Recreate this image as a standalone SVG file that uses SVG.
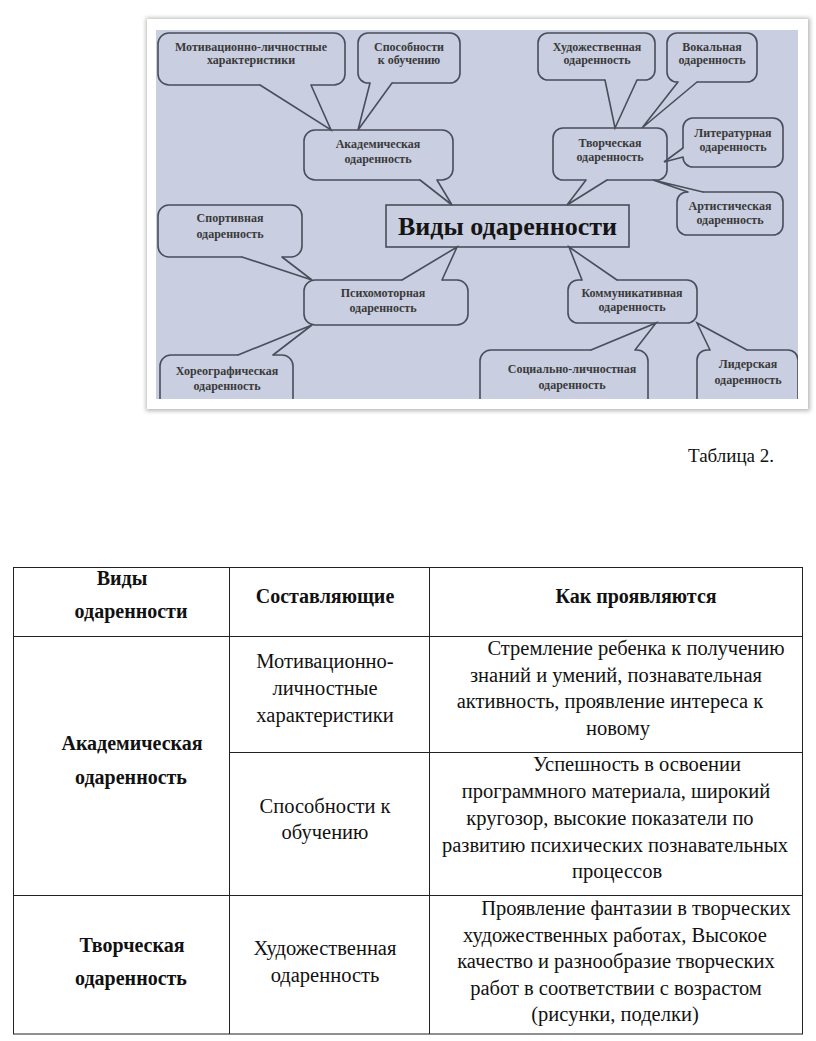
<svg xmlns="http://www.w3.org/2000/svg" width="816" height="1041" viewBox="0 0 816 1041">
<defs>
<style>
.bx{fill:#c9cee0;stroke:#4a4e5a;stroke-width:1.6}
.cv{fill:#c9cee0;stroke:none}
.tl{fill:none;stroke:#4a4e5a;stroke-width:1.6;stroke-linecap:round;stroke-linejoin:miter}
.ct{font-family:"Liberation Serif",serif;font-size:12px;font-weight:bold;fill:#3a3a3a;text-anchor:middle}
.ttl{font-family:"Liberation Serif",serif;font-size:26px;font-weight:bold;fill:#151515;text-anchor:middle}
.tb{font-family:"Liberation Serif",serif;font-size:20.5px;fill:#111;text-anchor:middle}
.tbb{font-family:"Liberation Serif",serif;font-size:20px;font-weight:bold;fill:#111;text-anchor:middle}
.grid{stroke:#222;stroke-width:1;fill:none}
</style>
<clipPath id="clipA"><rect x="156" y="30" width="642" height="369"/></clipPath>
<filter id="sh" x="-5%" y="-5%" width="110%" height="110%"><feGaussianBlur stdDeviation="2"/></filter>
</defs>
<rect width="816" height="1041" fill="#ffffff"/>
<!-- picture frame -->
<rect x="146" y="18" width="664" height="393" fill="#b8b8b8" filter="url(#sh)"/>
<rect x="147" y="19" width="661" height="390" fill="#ffffff"/>
<rect x="156" y="30" width="642" height="369" fill="#c9cee0"/>
<g clip-path="url(#clipA)">
<g id="motiv"><rect class="bx" x="158" y="33" width="187" height="52" rx="11"/><text class="ct" x="251" y="51">Мотивационно-личностные</text><text class="ct" x="251" y="64">характеристики</text></g>
<g id="sposob"><rect class="bx" x="358" y="33" width="102" height="50" rx="10"/><text class="ct" x="409" y="51">Способности</text><text class="ct" x="409" y="64">к обучению</text></g>
<g id="akad"><rect class="bx" x="304" y="130" width="149" height="50" rx="11"/><text class="ct" x="378" y="148">Академическая</text><text class="ct" x="378" y="163">одаренность</text></g>
<g id="hud"><rect class="bx" x="538" y="33" width="117" height="47" rx="10"/><text class="ct" x="597" y="51">Художественная</text><text class="ct" x="597" y="64">одаренность</text></g>
<g id="vokal"><rect class="bx" x="667" y="33" width="90" height="49" rx="10"/><text class="ct" x="712" y="51">Вокальная</text><text class="ct" x="712" y="64">одаренность</text></g>
<g id="tvor"><rect class="bx" x="553" y="128" width="114" height="52" rx="10"/><text class="ct" x="610" y="147">Творческая</text><text class="ct" x="610" y="161">одаренность</text></g>
<g id="liter"><rect class="bx" x="683" y="118" width="100" height="49" rx="10"/><text class="ct" x="733" y="137">Литературная</text><text class="ct" x="733" y="151">одаренность</text></g>
<g id="artist"><rect class="bx" x="677" y="192" width="106" height="43" rx="10"/><text class="ct" x="730" y="210">Артистическая</text><text class="ct" x="730" y="224">одаренность</text></g>
<g id="sport"><rect class="bx" x="158" y="205" width="144" height="52" rx="11"/><text class="ct" x="230" y="222">Спортивная</text><text class="ct" x="230" y="238">одаренность</text></g>
<g id="psih"><rect class="bx" x="304" y="280" width="164" height="45" rx="11"/><text class="ct" x="383" y="297">Психомоторная</text><text class="ct" x="383" y="312">одаренность</text></g>
<g id="horeo"><rect class="bx" x="160" y="355" width="133" height="60" rx="11"/><text class="ct" x="227" y="375">Хореографическая</text><text class="ct" x="227" y="390">одаренность</text></g>
<g id="komm"><rect class="bx" x="568" y="280" width="129" height="43" rx="10"/><text class="ct" x="632" y="297">Коммуникативная</text><text class="ct" x="632" y="311">одаренность</text></g>
<g id="social"><rect class="bx" x="480" y="350" width="168" height="60" rx="11"/><text class="ct" x="572" y="373">Социально-личностная</text><text class="ct" x="572" y="389">одаренность</text></g>
<g id="lider"><rect class="bx" x="697" y="350" width="101" height="60" rx="10"/><text class="ct" x="748" y="368">Лидерская</text><text class="ct" x="748" y="384">одаренность</text></g>
<g id="center"><rect class="bx" x="386" y="205" width="243" height="42"/><text class="ttl" x="507.5" y="235" textLength="219" lengthAdjust="spacingAndGlyphs">Виды одаренности</text></g>
<g id="connectors">
<polygon class="cv" points="260,82 260,85 331,130 311,85 311,82"/><polyline class="tl" points="260,85 331,130 311,85"/>
<polygon class="cv" points="370,80 370,83 358,130 392,83 392,80"/><polyline class="tl" points="370,83 358,130 392,83"/>
<polygon class="cv" points="420,177 420,180 452,205 437,180 437,177"/><polyline class="tl" points="420,180 452,205 437,180"/>
<polygon class="cv" points="605,77 605,80 615,128 637,80 637,77"/><polyline class="tl" points="605,80 615,128 637,80"/>
<polygon class="cv" points="678,79 678,82 642,128 697,82 697,79"/><polyline class="tl" points="678,82 642,128 697,82"/>
<polygon class="cv" points="586,177 586,180 567,205 607,180 607,177"/><polyline class="tl" points="586,180 567,205 607,180"/>
<polygon class="cv" points="686,148 683,148 664,162 683,157 686,157"/><polyline class="tl" points="683,148 664,162 683,157"/>
<polygon class="cv" points="688,195 688,192 653,180 703,192 703,195"/><polyline class="tl" points="688,192 653,180 703,192"/>
<polygon class="cv" points="242,254 242,257 312,280 282,257 282,254"/><polyline class="tl" points="242,257 312,280 282,257"/>
<polygon class="cv" points="402,283 402,280 457,247 442,280 442,283"/><polyline class="tl" points="402,280 457,247 442,280"/>
<polygon class="cv" points="238,358 238,355 312,325 273,355 273,358"/><polyline class="tl" points="238,355 312,325 273,355"/>
<polygon class="cv" points="582,283 582,280 569,247 617,280 617,283"/><polyline class="tl" points="582,280 569,247 617,280"/>
<polygon class="cv" points="591,353 591,350 656,323 635,350 635,353"/><polyline class="tl" points="591,350 656,323 635,350"/>
<polygon class="cv" points="710,353 710,350 697,323 747,350 747,353"/><polyline class="tl" points="710,350 697,323 747,350"/>
</g>
</g>
<text x="688" y="462" style="font-family:'Liberation Serif',serif;font-size:19px;fill:#111">Таблица 2.</text>
<g id="table">
<rect class="grid" x="13.5" y="567.5" width="789" height="466.5"/>
<line class="grid" x1="229.5" y1="567" x2="229.5" y2="1034"/>
<line class="grid" x1="429.5" y1="567" x2="429.5" y2="1034"/>
<line class="grid" x1="13" y1="636.5" x2="803" y2="636.5"/>
<line class="grid" x1="229" y1="752.5" x2="803" y2="752.5"/>
<line class="grid" x1="13" y1="895.5" x2="803" y2="895.5"/>
<text class="tbb" x="122" y="585">Виды</text>
<text class="tbb" x="131" y="618">одаренности</text>
<text class="tbb" x="325" y="603">Составляющие</text>
<text class="tbb" x="636" y="603">Как проявляются</text>
<text class="tbb" x="132" y="750">Академическая</text>
<text class="tbb" x="131" y="784">одаренность</text>
<text class="tb" x="325" y="668">Мотивационно-</text>
<text class="tb" x="325" y="695">личностные</text>
<text class="tb" x="325" y="722">характеристики</text>
<text class="tb" x="636" y="655">Стремление ребенка к получению</text>
<text class="tb" x="616" y="682">знаний и умений, познавательная</text>
<text class="tb" x="610" y="708">активность, проявление интереса к</text>
<text class="tb" x="618" y="735">новому</text>
<text class="tb" x="325" y="813">Способности к</text>
<text class="tb" x="325" y="839">обучению</text>
<text class="tb" x="637" y="771">Успешность в освоении</text>
<text class="tb" x="616" y="798">программного материала, широкий</text>
<text class="tb" x="610" y="825">кругозор, высокие показатели по</text>
<text class="tb" x="615" y="852">развитию психических познавательных</text>
<text class="tb" x="617" y="878">процессов</text>
<text class="tbb" x="132" y="952">Творческая</text>
<text class="tbb" x="131" y="985">одаренность</text>
<text class="tb" x="325" y="955">Художественная</text>
<text class="tb" x="325" y="982">одаренность</text>
<text class="tb" x="636" y="915">Проявление фантазии в творческих</text>
<text class="tb" x="615" y="942">художественных работах, Высокое</text>
<text class="tb" x="616" y="968">качество и разнообразие творческих</text>
<text class="tb" x="616" y="995">работ в соответствии с возрастом</text>
<text class="tb" x="615" y="1021">(рисунки, поделки)</text>
</g>
</svg>
